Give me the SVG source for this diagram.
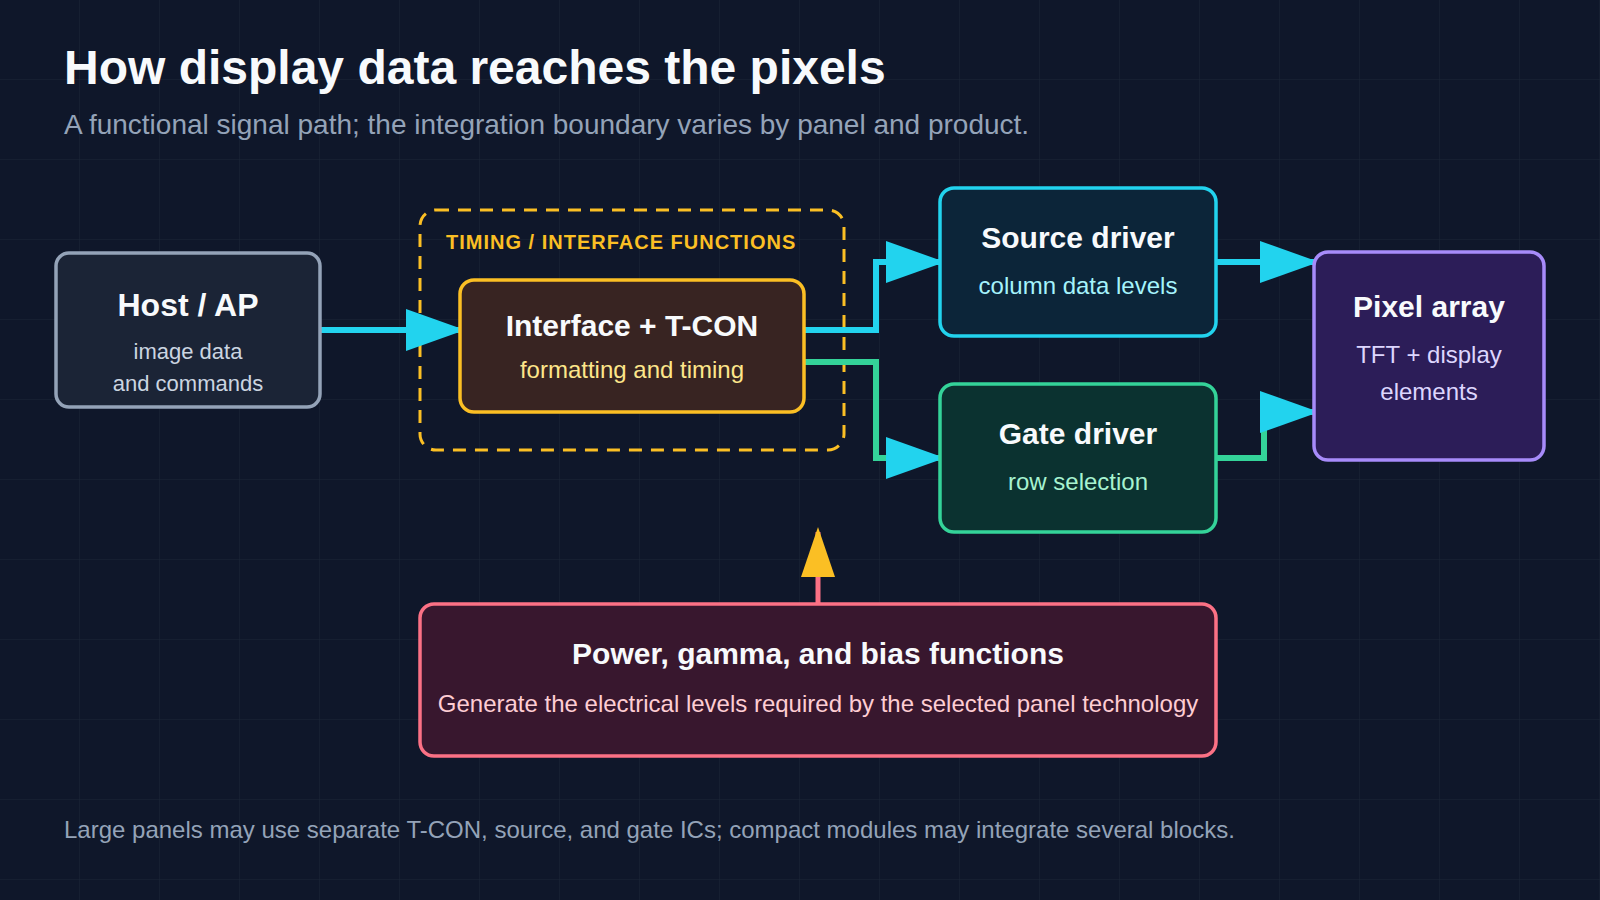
<svg xmlns="http://www.w3.org/2000/svg" width="1600" height="900" viewBox="0 0 1600 900">
  <defs>
    <pattern id="grid" width="80" height="80" patternUnits="userSpaceOnUse">
      <path d="M80,0 V80 M0,80 H80" fill="none" stroke="#1c2638" stroke-width="1"/>
    </pattern>
    <marker id="arrCyan" markerUnits="userSpaceOnUse" markerWidth="59" markerHeight="42" refX="54" refY="21" orient="auto" viewBox="0 0 59 42">
      <path d="M0,0 L59,21 L0,42 Z" fill="#22d3ee"/>
    </marker>
    <marker id="arrYellow" markerUnits="userSpaceOnUse" markerWidth="50" markerHeight="34" refX="45" refY="17" orient="auto" viewBox="0 0 50 34">
      <path d="M0,0 L50,17 L0,34 Z" fill="#fbbf24"/>
    </marker>
  </defs>
  <style>
    .node { stroke-width: 3.5; }
    .ttl { font-family: "Liberation Sans", Arial, sans-serif; font-weight: 700; font-size: 30px; fill: #f8fafc; text-anchor: middle; }
    .sub { font-family: "Liberation Sans", Arial, sans-serif; font-size: 24px; text-anchor: middle; }
    .host-ttl { font-size: 32px; }
    .host-sub { font-size: 22px; fill: #cbd5e1; }
    .conn { fill: none; stroke-width: 6; }
  </style>

  <rect width="1600" height="900" fill="#0f172a"/>
  <rect width="1600" height="900" fill="url(#grid)"/>

  <g id="header">
    <text x="64" y="84" font-family="'Liberation Sans', Arial, sans-serif" font-weight="700" font-size="48" fill="#f8fafc">How display data reaches the pixels</text>
    <text x="64" y="134" font-family="'Liberation Sans', Arial, sans-serif" font-size="28" fill="#94a3b8">A functional signal path; the integration boundary varies by panel and product.</text>
  </g>

  <g id="timing-group">
    <rect x="420" y="210" width="424" height="240" rx="16" fill="none" stroke="#fbbf24" stroke-width="3" stroke-dasharray="13 9"/>
    <text x="446" y="249" font-family="'Liberation Sans', Arial, sans-serif" font-weight="700" font-size="20" letter-spacing="1" fill="#fbbf24">TIMING / INTERFACE FUNCTIONS</text>
  </g>

  <g id="connectors">
    <path class="conn" d="M320,330 H460" stroke="#22d3ee" marker-end="url(#arrCyan)"/>
    <path class="conn" d="M804,330 H876 V262 H940" stroke="#22d3ee" marker-end="url(#arrCyan)"/>
    <path class="conn" d="M804,362 H876 V458 H940" stroke="#34d399" marker-end="url(#arrCyan)"/>
    <path class="conn" d="M1216,262 H1314" stroke="#22d3ee" marker-end="url(#arrCyan)"/>
    <path class="conn" d="M1216,458 H1264 V412 H1314" stroke="#34d399" marker-end="url(#arrCyan)"/>
    <path class="conn" d="M818,604 V532" stroke="#fb7185" style="stroke-width:5" marker-end="url(#arrYellow)"/>
  </g>

  <g id="host">
    <rect class="node" x="56" y="253" width="264" height="154" rx="13" fill="#1b2436" stroke="#94a3b8"/>
    <text class="ttl host-ttl" x="188" y="316">Host / AP</text>
    <text class="sub host-sub" x="188" y="359">image data</text>
    <text class="sub host-sub" x="188" y="391">and commands</text>
  </g>

  <g id="interface">
    <rect class="node" x="460" y="280" width="344" height="132" rx="14" fill="#382422" stroke="#fbbf24"/>
    <text class="ttl" x="632" y="336">Interface + T-CON</text>
    <text class="sub" x="632" y="378" fill="#fde68a">formatting and timing</text>
  </g>

  <g id="source">
    <rect class="node" x="940" y="188" width="276" height="148" rx="14" fill="#0c2539" stroke="#22d3ee"/>
    <text class="ttl" x="1078" y="248">Source driver</text>
    <text class="sub" x="1078" y="294" fill="#a5f3fc">column data levels</text>
  </g>

  <g id="gate">
    <rect class="node" x="940" y="384" width="276" height="148" rx="14" fill="#0b3230" stroke="#34d399"/>
    <text class="ttl" x="1078" y="444">Gate driver</text>
    <text class="sub" x="1078" y="490" fill="#a7f3d0">row selection</text>
  </g>

  <g id="pixel">
    <rect class="node" x="1314" y="252" width="230" height="208" rx="14" fill="#2c1d58" stroke="#a78bfa"/>
    <text class="ttl" x="1429" y="317">Pixel array</text>
    <text class="sub" x="1429" y="363" fill="#ddd6fe">TFT + display</text>
    <text class="sub" x="1429" y="400" fill="#ddd6fe">elements</text>
  </g>

  <g id="power">
    <rect class="node" x="420" y="604" width="796" height="152" rx="14" fill="#38172e" stroke="#fb7185"/>
    <text class="ttl" x="818" y="664">Power, gamma, and bias functions</text>
    <text class="sub" x="818" y="712" fill="#fecdd3">Generate the electrical levels required by the selected panel technology</text>
  </g>

  <g id="footer">
    <text x="64" y="838" font-family="'Liberation Sans', Arial, sans-serif" font-size="24" fill="#94a3b8">Large panels may use separate T-CON, source, and gate ICs; compact modules may integrate several blocks.</text>
  </g>
</svg>
